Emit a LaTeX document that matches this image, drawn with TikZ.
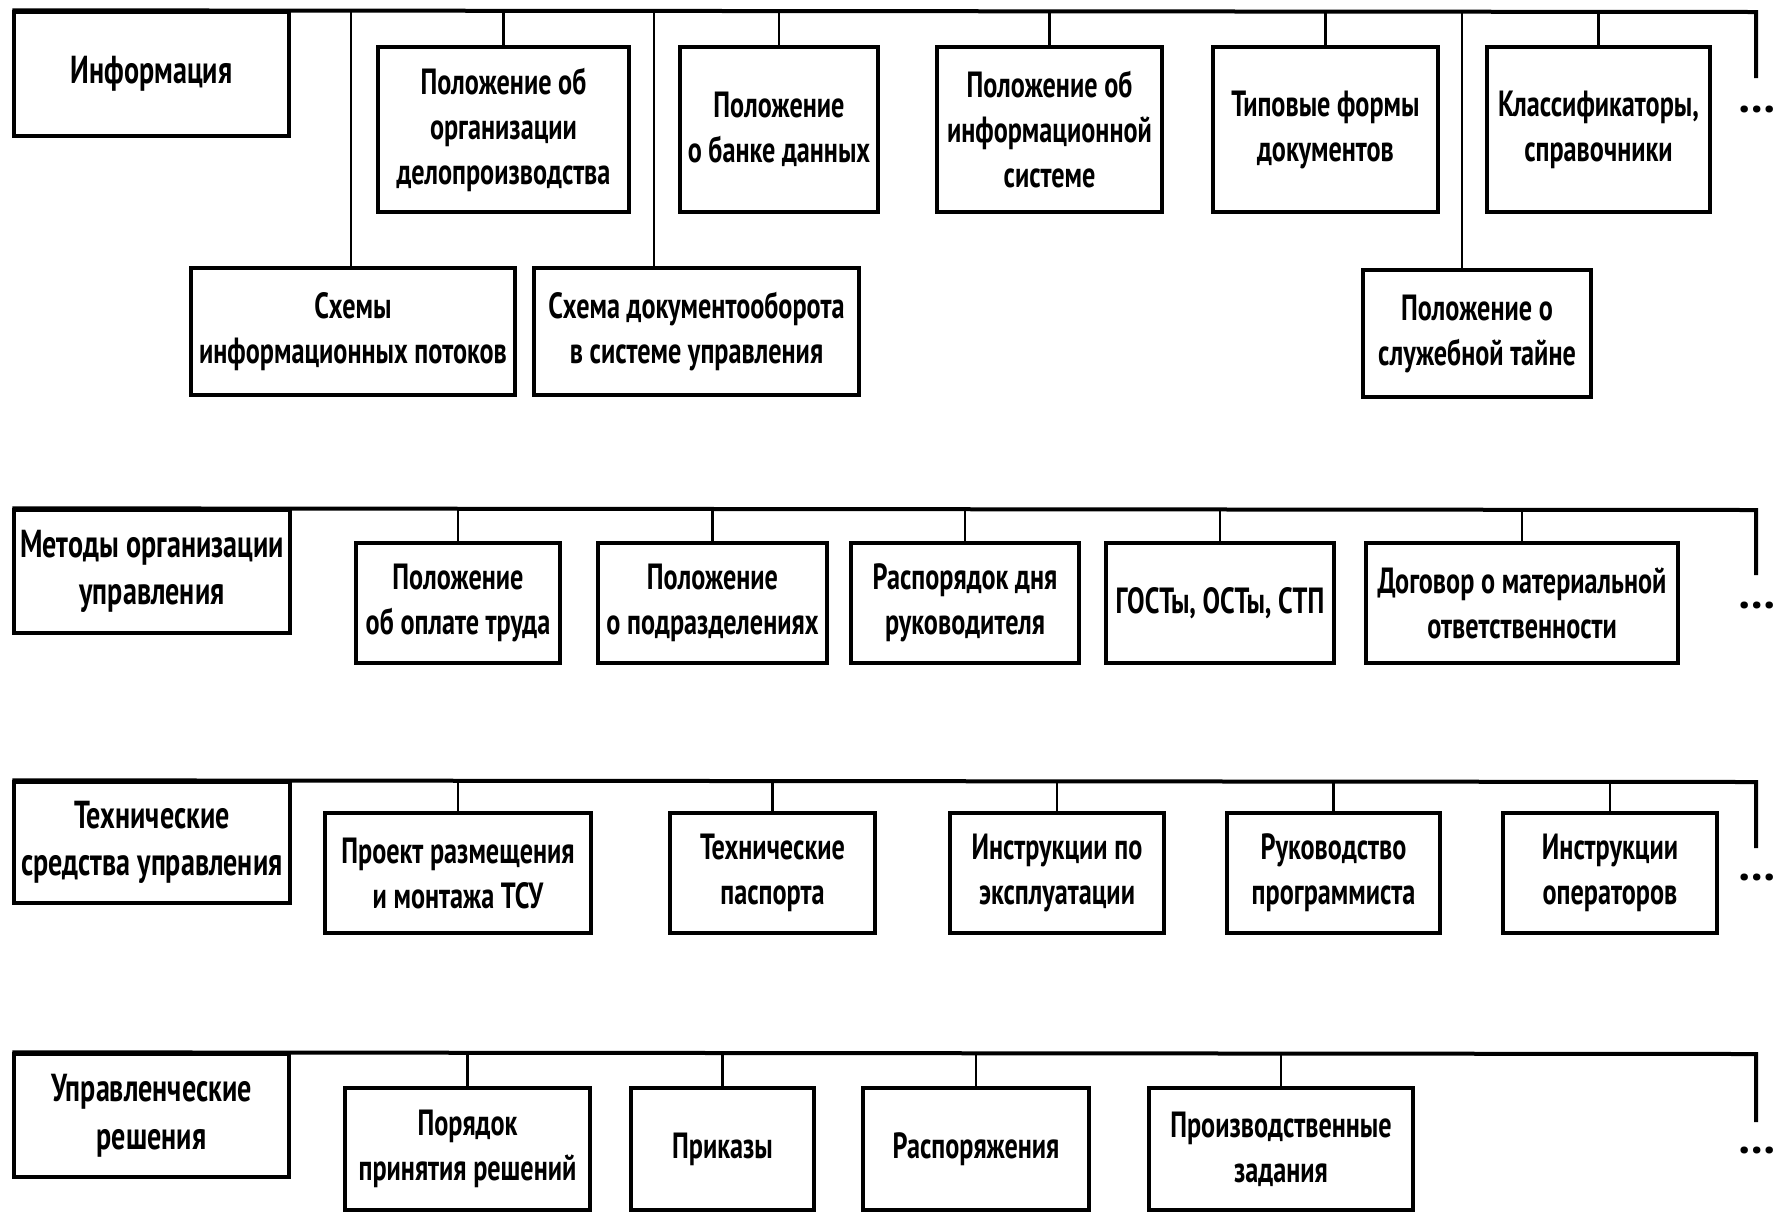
\documentclass[tikz,border=0pt]{standalone}
\usepackage{fontspec}
\setmainfont{PT Sans}[FakeStretch=0.72]
\newfontfamily\dotsfont{PT Sans}
\newcommand\bx[6]{\node[box, minimum width={0.5pt*(#4-#2)}, minimum height={0.5pt*(#5-#3)}] (#1) at ({(#2+#4)/2},{(#3+#5)/2}) {#6};}
\newcommand\cbx[6]{\node[box, catfont, minimum width={0.5pt*(#4-#2)}, minimum height={0.5pt*(#5-#3)}] (#1) at ({(#2+#4)/2},{(#3+#5)/2}) {#6};}
\begin{document}
\begin{tikzpicture}[x=0.5pt,y=-0.5pt,
  box/.style={draw, line width=1.7pt, inner sep=0pt, align=center, fill=white,
    font=\bfseries\fontsize{18.2}{22.5}\selectfont},
  catfont/.style={font=\bfseries\fontsize{19.5}{23.8}\selectfont},
  bus/.style={line width=2pt, line join=miter},
  conn/.style={line width=1.3pt},
  more/.style={anchor=base, inner sep=0pt, font=\dotsfont\bfseries\fontsize{23}{23}\selectfont}]
\useasboundingbox[fill=white] (0,0) rectangle (1776,1228);

% ---------- Row 1 ----------
\cbx{inf}{14}{12}{289}{136}{Информация}
\bx{a1}{378}{47}{629}{212}{Положение об\\организации\\делопроизводства}
\bx{a2}{680}{47}{878}{212}{Положение\\о банке данных}
\bx{a3}{937}{47}{1162}{212}{Положение об\\информационной\\системе}
\bx{a4}{1213}{47}{1438}{212}{Типовые формы\\документов}
\bx{a5}{1487}{47}{1710}{212}{Классификаторы,\\справочники}
\bx{a6}{191}{268}{515}{395}{Схемы\\информационных потоков}
\bx{a7}{534}{268}{859}{395}{Схема документооборота\\в системе управления}
\bx{a8}{1363}{270}{1591}{397}{Положение о\\служебной тайне}
\coordinate (r1e) at (1756,12);
\coordinate (r1d) at (1756,78);
\coordinate (t6) at (351,12);
\coordinate (t7) at (654,12);
\coordinate (t8) at (1462,12);
\draw[bus] (inf.north west) -- (r1e) -- (r1d);
\foreach \n in {a1,a2,a3,a4,a5}{\draw[conn] (\n.north) -- (\n.north |- r1e);}
\draw[conn] (t6) -- (t6 |- a6.north);
\draw[conn] (t7) -- (t7 |- a7.north);
\draw[conn] (t8) -- (t8 |- a8.north);
\node[more] (m1) at (1757,112) {…};

% ---------- Row 2 ----------
\cbx{met}{14}{510}{290}{633}{Методы организации\\управления}
\bx{b1}{356}{543}{560}{663}{Положение\\об оплате труда}
\bx{b2}{598}{543}{827}{663}{Положение\\о подразделениях}
\bx{b3}{851}{543}{1079}{663}{Распорядок дня\\руководителя}
\bx{b4}{1106}{543}{1334}{663}{ГОСТы, ОСТы, СТП}
\bx{b5}{1366}{543}{1678}{663}{Договор о материальной\\ответственности}
\coordinate (r2e) at (1756,510);
\coordinate (r2d) at (1756,575);
\draw[bus] (met.north west) -- (r2e) -- (r2d);
\foreach \n in {b1,b2,b3,b4,b5}{\draw[conn] (\n.north) -- (\n.north |- r2e);}
\node[more] (m2) at (1757,608) {…};

% ---------- Row 3 ----------
\cbx{tech}{14}{782}{290}{903}{Технические\\средства управления}
\bx{c1}{325}{813}{591}{933}{Проект размещения\\и монтажа ТСУ}
\bx{c2}{670}{813}{875}{933}{Технические\\паспорта}
\bx{c3}{950}{813}{1164}{933}{Инструкции по\\эксплуатации}
\bx{c4}{1227}{813}{1440}{933}{Руководство\\программиста}
\bx{c5}{1503}{813}{1717}{933}{Инструкции\\операторов}
\coordinate (r3e) at (1756,782);
\coordinate (r3d) at (1756,848);
\draw[bus] (tech.north west) -- (r3e) -- (r3d);
\foreach \n in {c1,c2,c3,c4,c5}{\draw[conn] (\n.north) -- (\n.north |- r3e);}
\node[more] (m3) at (1757,880) {…};

% ---------- Row 4 ----------
\cbx{upr}{14}{1054}{289}{1177}{Управленческие\\решения}
\bx{d1}{345}{1088}{590}{1210}{Порядок\\принятия решений}
\bx{d2}{631}{1088}{814}{1210}{Приказы}
\bx{d3}{863}{1088}{1089}{1210}{Распоряжения}
\bx{d4}{1149}{1088}{1413}{1210}{Производственные\\задания}
\coordinate (r4e) at (1756,1054);
\coordinate (r4d) at (1756,1122);
\draw[bus] (upr.north west) -- (r4e) -- (r4d);
\foreach \n in {d1,d2,d3,d4}{\draw[conn] (\n.north) -- (\n.north |- r4e);}
\node[more] (m4) at (1757,1153) {…};
\end{tikzpicture}
\end{document}
